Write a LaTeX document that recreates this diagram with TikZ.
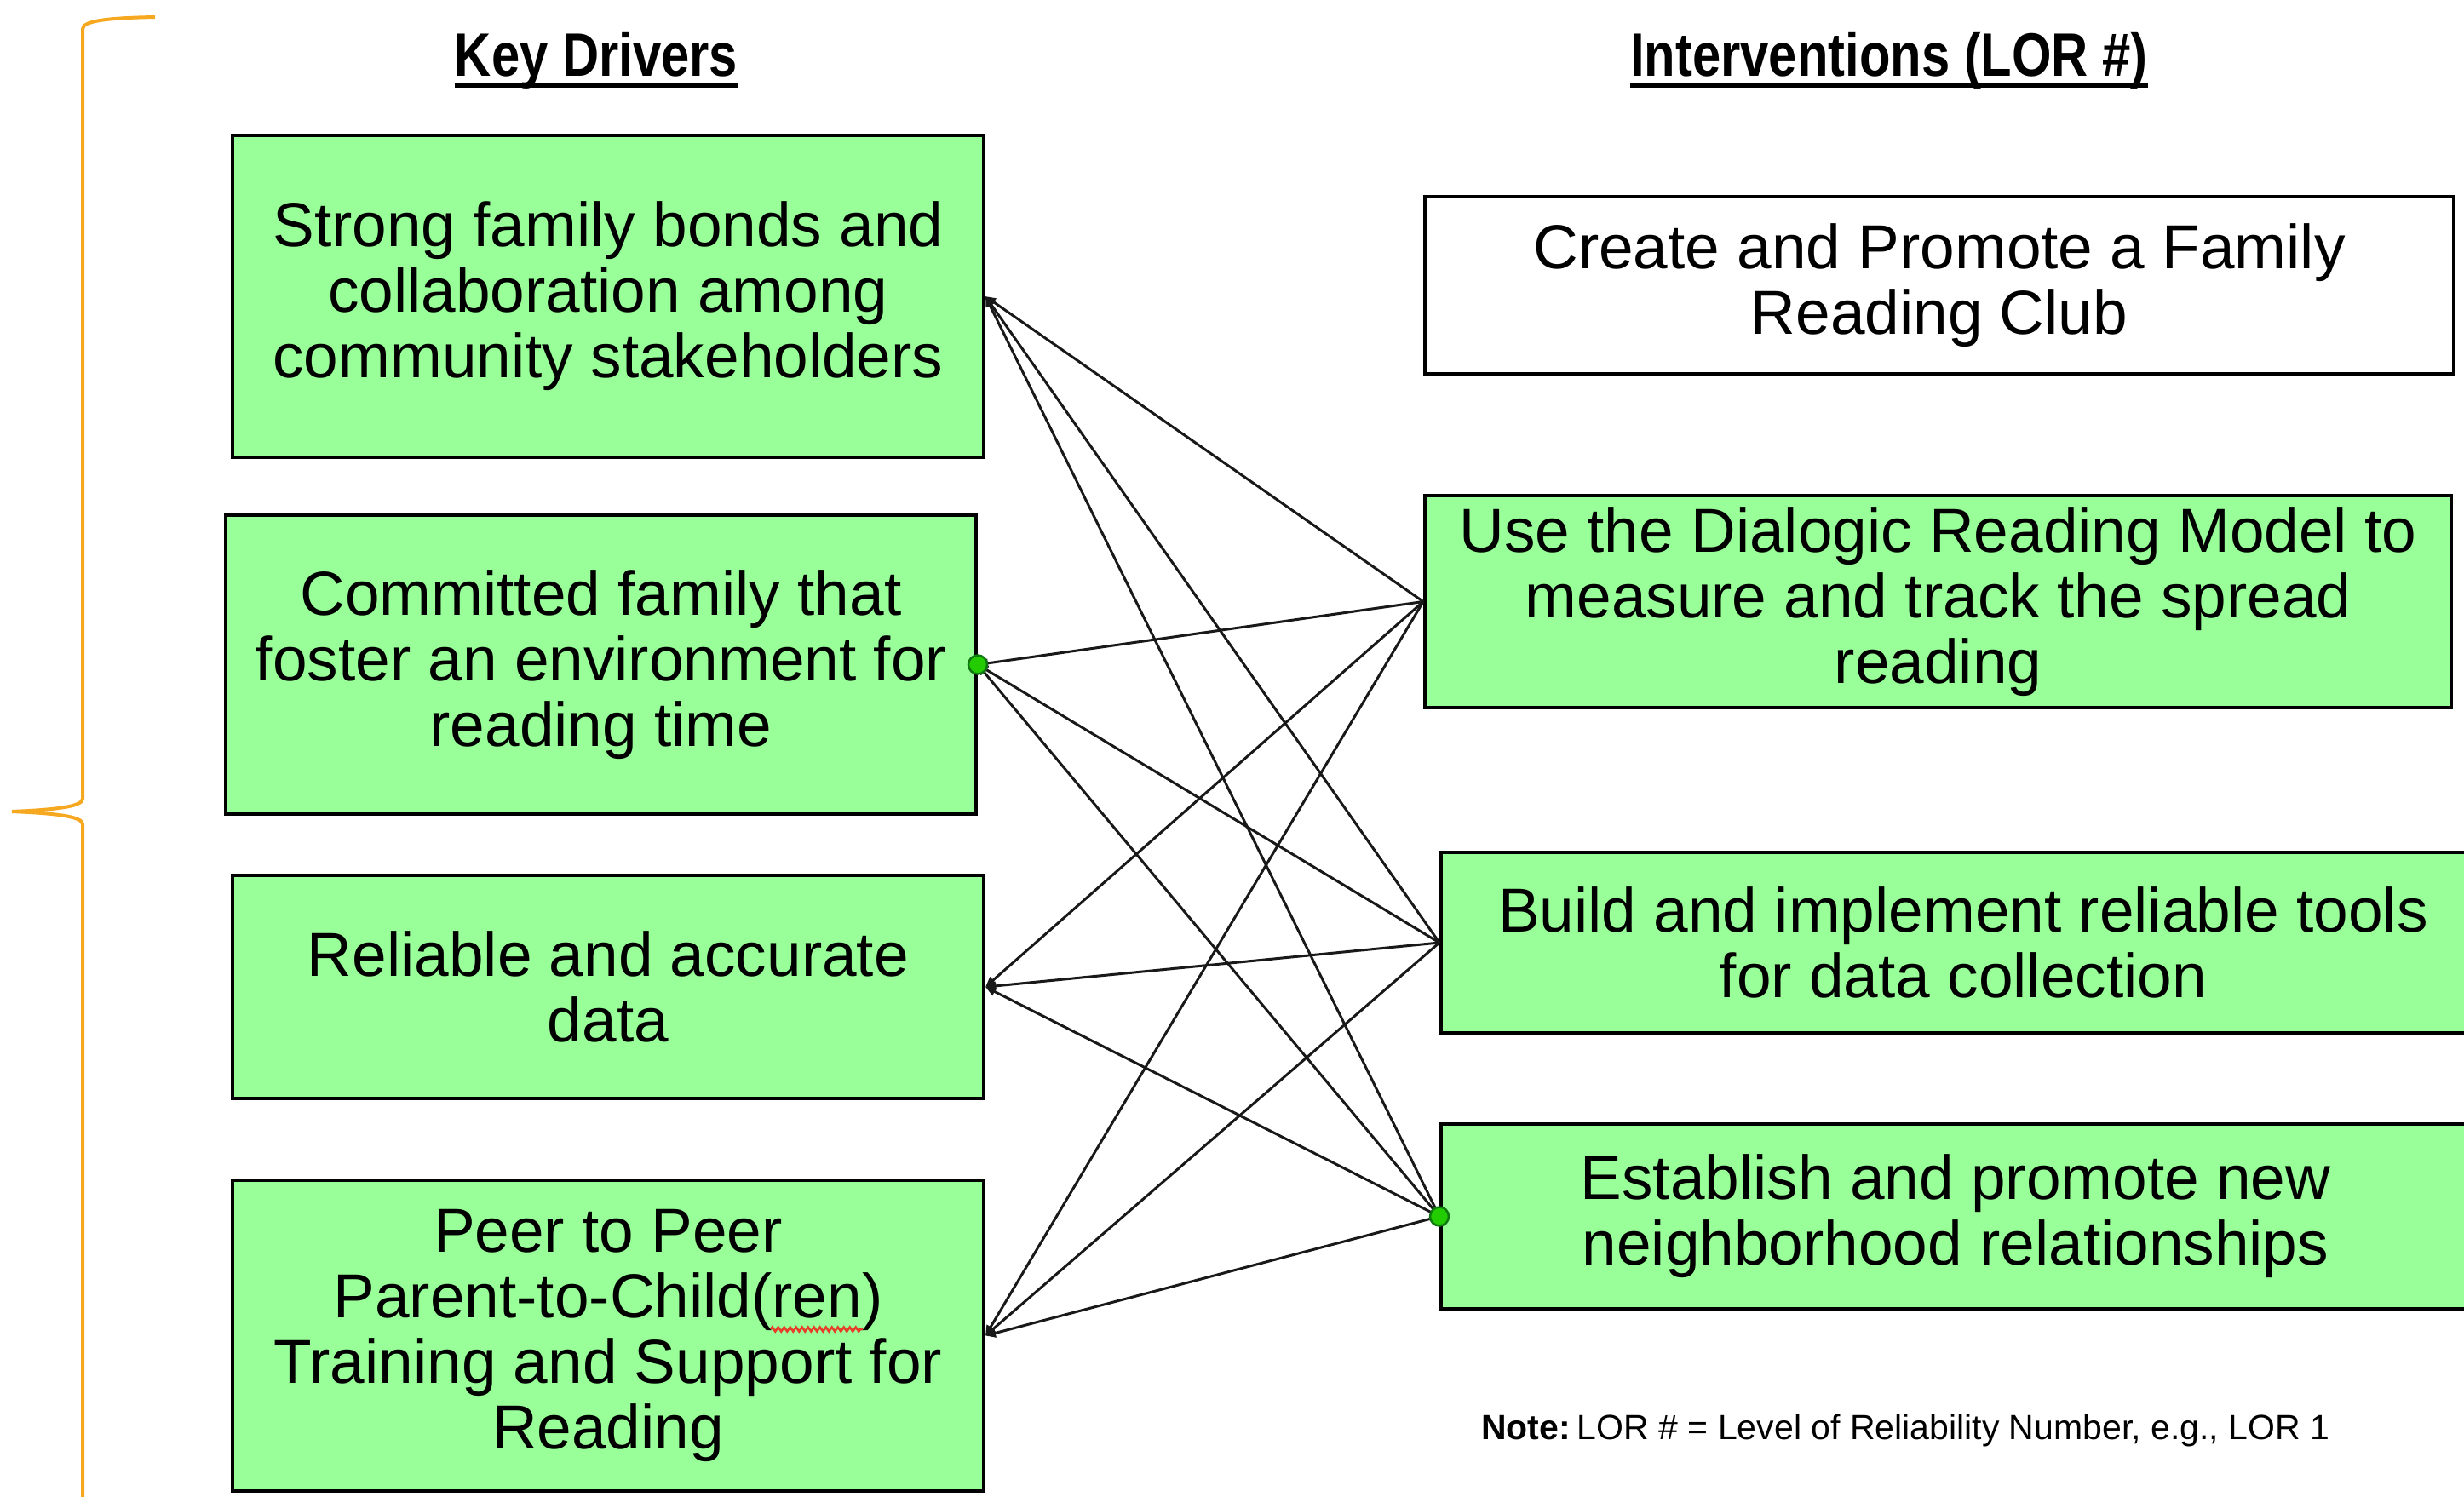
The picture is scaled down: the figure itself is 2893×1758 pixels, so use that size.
\documentclass[tikz,border=0pt]{standalone}
\usepackage{fontspec}
\setmainfont{Liberation Sans}
\usepackage{graphicx}
\usetikzlibrary{arrows.meta,decorations.pathmorphing}
\definecolor{kdgreen}{RGB}{153,255,153}
\definecolor{bracecol}{RGB}{246,168,33}
\definecolor{dotfill}{RGB}{34,204,0}
\definecolor{dotedge}{RGB}{16,120,16}
\definecolor{squigcol}{RGB}{230,60,40}
\newcommand{\boxfont}{\fontsize{73}{77}\selectfont}
\newcommand{\titlefont}{\fontsize{72}{77}\selectfont\bfseries}
\newcommand{\notefont}{\fontsize{41}{46}\selectfont}
\begin{document}
\begin{tikzpicture}[x=1pt,y=-1pt,
  box/.style={draw=black,line width=4pt,inner sep=0pt,align=center,font=\boxfont,text=black},
  drv/.style={box,fill=kdgreen},
  ivn/.style={box,fill=kdgreen},
  ivnwhite/.style={box,fill=white},
  title/.style={font=\titlefont,inner sep=0pt,anchor=base},
  uline/.style={line width=6pt},
  conn/.style={line width=3pt,draw=black!90,-{Triangle[length=12pt,width=10pt]}},
  gdot/.style={circle,fill=dotfill,draw=dotedge,line width=2.5pt,minimum size=22pt,inner sep=0pt},
  bracestyle/.style={draw=bracecol,line width=4pt},
  squig/.style={draw=squigcol,line width=2.5pt,decorate,decoration={zigzag,amplitude=2.5pt,segment length=7pt}}
]
\useasboundingbox (0,0) rectangle (2893,1758);
\clip (0,0) rectangle (2893,1758);
\fill[white] (0,0) rectangle (2893,1758);

% brace
\draw[bracestyle] (182,20) .. controls (130,21) and (97,24) .. (97,34) -- (97,938)
  .. controls (97,948) and (60,951) .. (14,953)
  .. controls (60,955) and (97,958) .. (97,968) -- (97,1770);

% titles
\node[title] (t1) at (700,90) {\scalebox{0.83}[1]{Key Drivers}};
\node[title] (t2) at (2218,90) {\scalebox{0.83}[1]{Interventions (LOR \#)}};
\draw[uline] ([yshift=-10pt]t1.base west) -- ([yshift=-10pt]t1.base east);
\draw[uline] ([yshift=-10pt]t2.base west) -- ([yshift=-10pt]t2.base east);

% key drivers
\node[drv,minimum width=882pt,minimum height=378pt] (B1) at (714,348)
  {Strong family bonds and\\collaboration among\\community stakeholders};
\node[drv,minimum width=881pt,minimum height=351pt] (B2) at (705.5,780.5)
  {Committed family that\\foster an environment for\\reading time};
\node[drv,minimum width=882pt,minimum height=262pt] (B3) at (714,1159)
  {Reliable and accurate\\data};
\node[drv,minimum width=882pt,minimum height=365pt] (B4) at (714,1568.5)
  {Peer to Peer\\Parent-to-Child(ren)\\Training and Support for\\Reading};

% interventions
\node[ivnwhite,minimum width=1208pt,minimum height=208pt] (R1) at (2277,335)
  {Create and Promote a Family\\Reading Club};
\node[ivn,minimum width=1205pt,minimum height=249pt] (R2) at (2275.5,706.5)
  {Use the Dialogic Reading Model to\\measure and track the spread\\reading};
\node[ivn,minimum width=1226pt,minimum height=212pt] (R3) at (2305,1107)
  {Build and implement reliable tools\\for data collection};
\node[ivn,minimum width=1208pt,minimum height=217pt] (R4) at (2296,1428.5)
  {Establish and promote new\\neighborhood relationships};

% spell-check squiggle under "ren"
\draw[squig] (905,1561) -- (1013,1561);

% connectors
\foreach \r in {R2,R3,R4}{
  \foreach \b in {B1,B2,B3,B4}{
    \draw[conn] (\r.west) -- (\b.east);
  }
}

% selection dots
\node[gdot] (d1) at (B2.east) {};
\node[gdot] (d2) at (R4.west) {};

% note
\node[font=\notefont,anchor=base,inner sep=0pt] (note) at (2237,1690)
  {\textbf{Note:}\hspace{0.2em}LOR \# = Level of Reliability Number, e.g., LOR 1};
\end{tikzpicture}
\end{document}
